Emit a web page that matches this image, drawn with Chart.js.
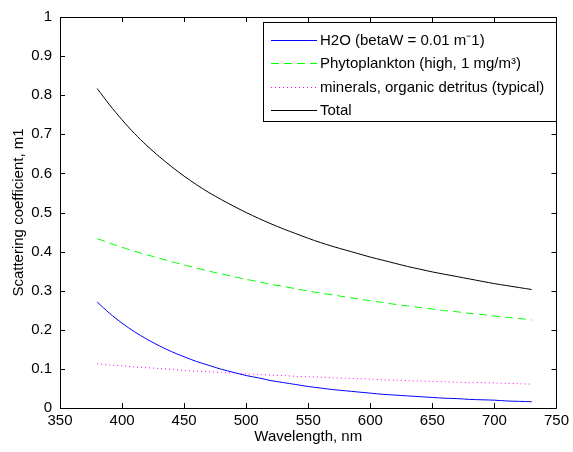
<!DOCTYPE html>
<html>
<head>
<meta charset="utf-8">
<script src="https://cdn.jsdelivr.net/npm/chart.js@4/dist/chart.umd.min.js"></script>
<style>
  html, body { margin: 0; padding: 0; background: #fff; }
  #wrap { width: 573px; height: 452px; position: relative; }
</style>
</head>
<body>
<div id="wrap"><canvas id="scatterCanvas"></canvas></div>
<script>
// wavelengths (nm)
const wavelength = [380, 390, 400, 410, 420, 430, 440, 450, 460, 470, 480, 490,
  500, 510, 520, 530, 540, 550, 560, 570, 580, 590, 600, 610, 620, 630, 640, 650,
  660, 670, 680, 690, 700, 710, 720, 730];

// values (m^-1)
const water = [0.271, 0.242, 0.217, 0.195, 0.176, 0.159, 0.144, 0.131, 0.119, 0.109, 0.099, 0.091,
  0.083, 0.077, 0.070, 0.065, 0.060, 0.055, 0.051, 0.047, 0.044, 0.041, 0.038, 0.035, 0.033, 0.031,
  0.029, 0.027, 0.025, 0.024, 0.022, 0.021, 0.020, 0.018, 0.017, 0.016];
const phyto = [0.433, 0.422, 0.411, 0.401, 0.392, 0.383, 0.374, 0.366, 0.358, 0.350, 0.343, 0.336,
  0.329, 0.323, 0.316, 0.311, 0.305, 0.299, 0.294, 0.289, 0.284, 0.279, 0.274, 0.270, 0.265, 0.261,
  0.257, 0.253, 0.249, 0.246, 0.242, 0.239, 0.235, 0.232, 0.229, 0.225];
const minerals = [0.113, 0.110, 0.108, 0.105, 0.103, 0.101, 0.099, 0.096, 0.094, 0.093, 0.091, 0.089,
  0.087, 0.086, 0.084, 0.083, 0.081, 0.080, 0.079, 0.077, 0.076, 0.075, 0.074, 0.072, 0.071, 0.070,
  0.069, 0.068, 0.067, 0.066, 0.065, 0.065, 0.064, 0.063, 0.062, 0.061];
const total = [0.817, 0.775, 0.737, 0.702, 0.671, 0.643, 0.617, 0.593, 0.571, 0.551, 0.533, 0.516,
  0.500, 0.485, 0.471, 0.458, 0.446, 0.434, 0.423, 0.413, 0.404, 0.395, 0.386, 0.378, 0.370, 0.362,
  0.355, 0.348, 0.342, 0.336, 0.330, 0.324, 0.318, 0.313, 0.308, 0.303];

const seriesNames = [
  'H2O (betaW = 0.01 m\u207B1)',
  'Phytoplankton (high, 1 mg/m\u00B3)',
  'minerals, organic detritus (typical)',
  'Total'
];
const seriesColors = ['#0000ff', '#00ff00', '#ff00ff', '#000000'];
const seriesDash = [[], [8, 5], [1, 3], []];

const FONT = '"Liberation Sans", Arial, sans-serif';

function pts(ys) {
  return wavelength.map((x, i) => ({ x: x, y: ys[i] }));
}

// MATLAB-like box with inward ticks + boxed legend
const matlabBox = {
  id: 'matlabBox',
  afterDraw(chart) {
    const ctx = chart.ctx;
    const a = chart.chartArea;
    const xs = chart.scales.x, ys = chart.scales.y;
    const len = 5;
    ctx.save();
    ctx.setLineDash([]);
    ctx.strokeStyle = '#000';
    ctx.lineWidth = 1;
    ctx.beginPath();
    ctx.rect(Math.round(a.left) + 0.5, Math.round(a.top) + 0.5,
      Math.round(a.right - a.left), Math.round(a.bottom - a.top));
    ctx.stroke();
    ctx.beginPath();
    xs.ticks.forEach(t => {
      const px = Math.round(xs.getPixelForValue(t.value)) + 0.5;
      ctx.moveTo(px, a.bottom); ctx.lineTo(px, a.bottom - len);
      ctx.moveTo(px, a.top); ctx.lineTo(px, a.top + len);
    });
    ys.ticks.forEach(t => {
      const py = Math.round(ys.getPixelForValue(t.value)) + 0.5;
      ctx.moveTo(a.left, py); ctx.lineTo(a.left + len, py);
      ctx.moveTo(a.right, py); ctx.lineTo(a.right - len, py);
    });
    ctx.stroke();

    // legend
    const box = { left: 263, top: 22, right: 556, bottom: 121 };
    ctx.fillStyle = '#fff';
    ctx.fillRect(box.left, box.top, box.right - box.left, box.bottom - box.top);
    ctx.strokeStyle = '#000';
    ctx.strokeRect(box.left + 0.5, box.top + 0.5, box.right - box.left, box.bottom - box.top);
    ctx.font = '15px ' + FONT;
    ctx.textBaseline = 'middle';
    ctx.textAlign = 'left';
    seriesNames.forEach((name, i) => {
      const y = Math.round(box.top + 18 + i * 23.3) + 0.5;
      ctx.beginPath();
      ctx.strokeStyle = seriesColors[i];
      ctx.setLineDash(seriesDash[i]);
      ctx.moveTo(271, y);
      ctx.lineTo(317, y);
      ctx.stroke();
      ctx.setLineDash([]);
      ctx.fillStyle = '#000';
      ctx.fillText(name, 320, y);
    });
    ctx.restore();
  }
};

const config = {
  type: 'line',
  data: {
    datasets: [water, phyto, minerals, total].map((ys, i) => ({
      label: seriesNames[i],
      data: pts(ys),
      borderColor: seriesColors[i],
      borderDash: seriesDash[i],
      borderWidth: 1,
      pointRadius: 0,
      tension: 0.3,
      fill: false
    }))
  },
  options: {
    responsive: false,
    animation: false,
    layout: { padding: { left: 0, top: 12, right: 15, bottom: 0 } },
    plugins: { legend: { display: false }, tooltip: { enabled: false } },
    scales: {
      x: {
        type: 'linear', min: 350, max: 750,
        afterFit: s => { s.height = 44; },
        grid: { display: false, drawTicks: false },
        border: { display: false },
        ticks: { stepSize: 50, color: '#000', padding: 4, maxRotation: 0, font: { size: 15, family: FONT } },
        title: { display: true, text: 'Wavelength, nm', color: '#000', padding: { top: 0, bottom: 6 }, font: { size: 15, family: FONT } }
      },
      y: {
        min: 0, max: 1,
        afterFit: s => { s.width = 60; },
        grid: { display: false, drawTicks: false },
        border: { display: false },
        ticks: { stepSize: 0.1, color: '#000', padding: 8, font: { size: 15, family: FONT },
          callback: v => String(Math.round(v * 10) / 10) },
        title: { display: true, text: 'Scattering coefficient, m1', color: '#000', padding: { top: 10, bottom: 0 }, font: { size: 15, family: FONT } }
      }
    }
  },
  plugins: [matlabBox]
};

const cv = document.getElementById('scatterCanvas');
cv.width = 573; cv.height = 452;
new Chart(cv.getContext('2d'), config);
</script>
</body>
</html>
